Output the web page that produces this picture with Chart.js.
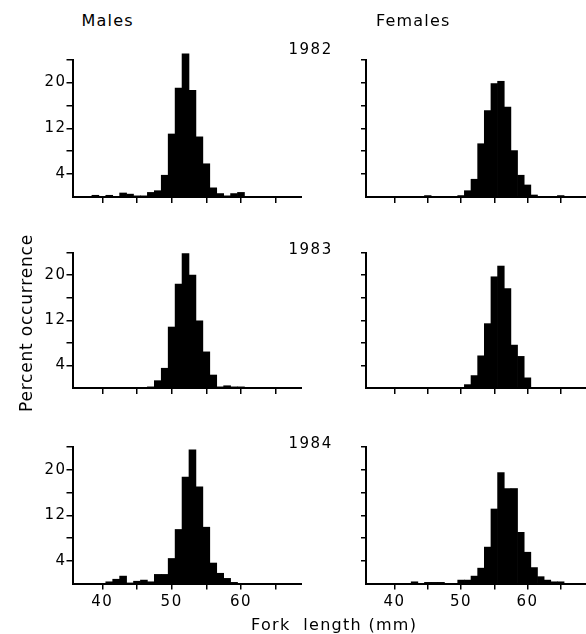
<!DOCTYPE html>
<html>
<head>
<meta charset="utf-8">
<script src="https://cdn.jsdelivr.net/npm/chart.js@4.4.1/dist/chart.umd.min.js"></script>
<style>
html,body{margin:0;padding:0;background:#fff;}
#wrap{position:relative;width:586px;height:634px;overflow:hidden;font-family:'DejaVu Sans',sans-serif;color:#000;}
.panel{position:absolute;}
.panel canvas{display:block;}
.lbl{position:absolute;white-space:pre;font-family:'DejaVu Sans',sans-serif;color:#000;}
.ttl{font-size:16px;line-height:16px;letter-spacing:1.2px;}
.yr{font-size:15px;line-height:15px;letter-spacing:1.5px;}
</style>
</head>
<body>
<div id="wrap"></div>
<script>
// ---- data (percent occurrence per 1 mm fork-length class) ----
const lengths = [38,39,40,41,42,43,44,45,46,47,48,49,50,51,52,53,54,55,56,57,58,59,60,61,62,63,64,65,66];
const years = ['1982','1983','1984'];
const sexes = ['Males','Females'];
const male1982   = [0,0.3,0.1,0.3,0.1,0.7,0.5,0.2,0.2,0.8, 1.1,3.8,11,19,25,18.6,10.5,5.8,1.6,0.6, 0.2,0.6,0.8,0,0,0,0,0,0];
const male1983   = [0,0.1,0.1,0,0,0.1,0.1,0.1,0,0.2, 1.3,3.5,10.8,18.4,23.8,20,11.9,6.4,2.3,0.2, 0.4,0.2,0.2,0,0,0,0,0,0];
const male1984   = [0,0,0,0.3,0.75,1.3,0.1,0.4,0.6,0.3, 1.6,1.6,4.4,9.5,18.7,23.5,17,9.9,3.6,1.8, 0.9,0.2,0,0,0,0,0,0,0];
const female1982 = [0,0,0,0,0,0,0,0.25,0,0, 0,0,0.25,1.1,3.1,9.3,15.1,19.8,20.2,15.7, 8.1,3.8,2.1,0.35,0.1,0,0,0.25,0];
const female1983 = [0,0,0,0.1,0.1,0,0,0,0,0.1, 0.1,0.1,0.1,0.6,2.2,5.7,11.4,19.7,21.6,17.6, 7.6,5.6,1.8,0.1,0,0,0.1,0.1,0];
const female1984 = [0,0,0,0,0,0.3,0,0.2,0.2,0.2, 0,0,0.6,0.6,1.3,2.7,6.4,13.1,19.5,16.7, 16.7,9.0,5.5,2.8,1.2,0.6,0.3,0.3,0];
const xTickValues = [40,45,50,55,60,65];
const xTickLabels = [40,50,60];
const yTickValues = [4,8,12,16,20,24];
const yTickLabels = [4,12,20];
const xTitle = 'Fork  length (mm)';
const yTitle = 'Percent occurrence';

// ---- layout ----
const series = [[male1982, female1982],[male1983, female1983],[male1984, female1984]];
const cols = [
  {left:0,   width:302, axisW:72.5, tickLen:6, labels:true},
  {left:302, width:284, axisW:64,   tickLen:5, labels:false}
];
const rows = [
  {top:40,  height:175, padTop:19.5, xH:18,   labels:false},
  {top:230, height:176, padTop:22.5, xH:18,   labels:false},
  {top:425, height:195, padTop:22,   xH:36.5, labels:true}
];
const FONT = {family:'DejaVu Sans', size:15};
const spacingPlugin = {id:'spacing', beforeDraw(chart){ chart.ctx.letterSpacing = '1.5px'; }};

const wrap = document.getElementById('wrap');

rows.forEach((row, ri) => {
  cols.forEach((col, ci) => {
    const div = document.createElement('div');
    div.className = 'panel';
    div.style.left = col.left + 'px';
    div.style.top = row.top + 'px';
    div.style.width = col.width + 'px';
    div.style.height = row.height + 'px';
    const cv = document.createElement('canvas');
    div.appendChild(cv);
    wrap.appendChild(div);
    const vals = series[ri][ci];
    new Chart(cv.getContext('2d'), {
      type: 'bar',
      data: {
        datasets: [{
          label: sexes[ci] + ' ' + years[ri],
          data: lengths.map((l, i) => ({x: l, y: vals[i]})),
          backgroundColor: '#000',
          borderWidth: 0,
          barPercentage: 1,
          categoryPercentage: 1,
          clip: false
        }]
      },
      options: {
        responsive: true,
        maintainAspectRatio: false,
        animation: false,
        devicePixelRatio: 1,
        events: [],
        layout: {padding: {top: row.padTop, left: 0, right: 0, bottom: 0}},
        plugins: {legend: {display: false}, tooltip: {enabled: false}},
        scales: {
          x: {
            type: 'linear', min: 35.7, max: 68.8, offset: false, bounds: 'data',
            afterBuildTicks: s => { s.ticks = xTickValues.map(v => ({value: v})); },
            afterFit: s => { s.height = row.xH; s.paddingLeft = 0; s.paddingRight = 0; },
            grid: {offset: false, drawOnChartArea: false, drawTicks: true, tickLength: 6, color: '#000', lineWidth: 1.5},
            border: {display: true, color: '#000', width: 2, z: 1},
            ticks: {display: row.labels, autoSkip: false, maxRotation: 0, minRotation: 0, padding: 4, color: '#000', font: FONT,
                    callback: v => xTickLabels.includes(v) ? String(v) : ''}
          },
          y: {
            type: 'linear', min: 0, max: 24, bounds: 'data',
            afterBuildTicks: s => { s.ticks = yTickValues.map(v => ({value: v})); },
            afterFit: s => { s.width = col.axisW; s.paddingTop = 0; s.paddingBottom = 0; },
            grid: {drawOnChartArea: false, drawTicks: true, tickLength: col.tickLen, color: '#000', lineWidth: 1.5},
            border: {display: true, color: '#000', width: 2, z: 1},
            ticks: {display: col.labels, autoSkip: false, padding: 0, color: '#000', font: FONT,
                    callback: v => yTickLabels.includes(v) ? String(v) : ''}
          }
        }
      },
      plugins: [spacingPlugin]
    });
  });
});

// ---- text labels ----
function addLabel(text, cls, style) {
  const d = document.createElement('div');
  d.className = 'lbl ' + cls;
  d.textContent = text;
  Object.assign(d.style, style);
  wrap.appendChild(d);
  return d;
}
addLabel(sexes[0], 'ttl', {left: '81.5px', top: '12.5px'});
addLabel(sexes[1], 'ttl', {left: '376px', top: '12.5px'});
const yearTops = [42.3, 241.6, 435.6];
years.forEach((y, i) => addLabel(y, 'yr', {left: '288.5px', top: yearTops[i] + 'px'}));
addLabel(xTitle, 'ttl', {left: '251px', top: '616.5px', letterSpacing: '1.3px'});
addLabel(yTitle, '', {left: '18.3px', top: '411.7px', fontSize: '17px', lineHeight: '17px',
  letterSpacing: '0.8px', transformOrigin: '0 0', transform: 'rotate(-90deg)'});
</script>
</body>
</html>
